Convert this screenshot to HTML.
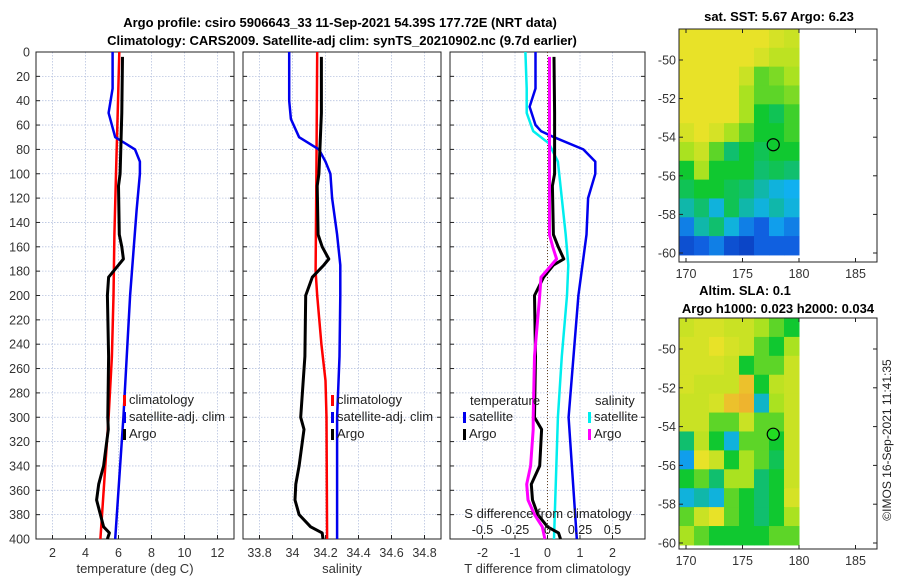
<!DOCTYPE html>
<html><head><meta charset="utf-8">
<style>
body{margin:0;background:#fff;}
svg{display:block;font-family:"Liberation Sans","DejaVu Sans",sans-serif;}
</style></head>
<body>
<svg id="s" width="900" height="580" viewBox="0 0 900 580" xmlns="http://www.w3.org/2000/svg">
<text x="340" y="27" font-size="13" font-weight="bold" text-anchor="middle">Argo profile: csiro 5906643_33 11-Sep-2021 54.39S 177.72E (NRT data)</text>
<text x="342" y="45" font-size="13" font-weight="bold" text-anchor="middle">Climatology: CARS2009. Satellite-adj clim: synTS_20210902.nc (9.7d earlier)</text>
<text x="779" y="21" font-size="13" font-weight="bold" text-anchor="middle">sat. SST: 5.67 Argo: 6.23</text>
<text x="745" y="295" font-size="13" font-weight="bold" text-anchor="middle">Altim. SLA: 0.1</text>
<text x="778" y="313" font-size="13" font-weight="bold" text-anchor="middle">Argo h1000: 0.023 h2000: 0.034</text>
<text transform="translate(891,440) rotate(-90)" font-size="12" text-anchor="middle" fill="#222">©IMOS 16-Sep-2021 11:41:35</text>
<g id="g"></g>
</svg>
<script>
// ---- data ----
const tempClimDepth=[0,50,100,150,200,250,300,350,400];
const tempClim=[6.05,5.95,5.85,5.75,5.7,5.6,5.4,5.15,4.9];
const tempSatDepth=[0,30,50,70,80,90,100,130,200,300,400];
const tempSat=[5.64,5.64,5.4,5.8,7.0,7.3,7.3,7.1,6.7,6.3,5.8];
const argoDepth=[4,50,100,110,150,160,170,175,185,200,250,300,310,340,355,368,380,390,395,400];
const tempArgo=[6.24,6.2,6.1,6.0,6.05,6.2,6.3,6.0,5.4,5.33,5.4,5.35,5.38,5.1,4.8,4.67,4.9,5.1,5.45,5.33];
const salClimDepth=[0,100,180,200,240,270,300,400];
const salClim=[34.15,34.145,34.14,34.15,34.175,34.2,34.206,34.21];
const salSatDepth=[0,40,55,70,80,90,100,120,150,175,200,250,300,400];
const salSat=[33.98,33.98,33.99,34.04,34.16,34.2,34.23,34.24,34.27,34.29,34.29,34.285,34.27,34.27];
const salArgo=[34.175,34.175,34.16,34.15,34.155,34.18,34.22,34.19,34.12,34.08,34.075,34.05,34.07,34.04,34.02,34.015,34.04,34.11,34.18,34.185];
const dSatTDepth=[0,30,45,60,65,70,80,90,100,120,150,200,300,400];
const dSatT=[-0.37,-0.37,-0.55,-0.37,-0.2,0.2,1.1,1.47,1.47,1.25,1.2,0.95,0.65,0.9];
const dSatSDepth=[0,30,50,65,75,90,150,175,200,250,300,400];
const dSatS=[-0.17,-0.16,-0.16,-0.11,0.01,0.08,0.14,0.16,0.15,0.11,0.08,0.05];
const dArgoT=[0.2,0.22,0.22,0.15,0.18,0.33,0.5,0.18,-0.12,-0.4,-0.37,-0.4,-0.18,-0.24,-0.5,-0.46,-0.3,0,0.34,0.4];
const dArgoS=[0.015,0.015,0.015,0.015,0.015,0.04,0.07,0.03,-0.05,-0.06,-0.1,-0.11,-0.11,-0.13,-0.16,-0.15,-0.1,-0.04,-0.03,-0.02];
const depthTicks=[0,20,40,60,80,100,120,140,160,180,200,220,240,260,280,300,320,340,360,380,400];
const tempTicks=[2,4,6,8,10,12];
const salTicks=[33.8,34,34.2,34.4,34.6,34.8];
const salTickLabels=["33.8","34","34.2","34.4","34.6","34.8"];
const dTTicks=[-2,-1,0,1,2];
const dSTicks=[-0.5,-0.25,0,0.25,0.5];
const lonTicks=[170,175,180,185];
const latTicks=[-50,-52,-54,-56,-58,-60];
const sstGrid=[
[.65,.65,.65,.65,.65,.65,.62,.6],
[.65,.65,.65,.65,.65,.62,.58,.58],
[.65,.65,.65,.65,.6,.5,.52,.55],
[.65,.65,.65,.65,.55,.5,.5,.52],
[.65,.65,.65,.65,.55,.45,.42,.48],
[.62,.65,.62,.55,.5,.45,.45,.48],
[.55,.6,.5,.4,.45,.42,.45,.45],
[.45,.55,.45,.45,.45,.4,.42,.4],
[.42,.45,.45,.42,.4,.35,.3,.28],
[.35,.4,.3,.42,.35,.3,.35,.3],
[.2,.35,.4,.3,.2,.15,.25,.2],
[.12,.15,.2,.12,.1,.15,.15,.15]];
const slaGrid=[
[.6,.62,.62,.6,.6,.55,.5,.45],
[.62,.62,.65,.62,.6,.5,.45,.55],
[.62,.62,.62,.6,.45,.5,.5,.6],
[.62,.6,.6,.6,.7,.45,.58,.6],
[.6,.6,.62,.7,.72,.32,.55,.6],
[.6,.6,.5,.5,.6,.5,.5,.6],
[.4,.58,.45,.3,.5,.5,.45,.6],
[.25,.65,.6,.45,.55,.5,.42,.6],
[.45,.5,.4,.55,.55,.4,.45,.6],
[.3,.35,.3,.5,.45,.4,.45,.62],
[.5,.6,.65,.5,.45,.4,.45,.55],
[.55,.5,.45,.45,.45,.45,.5,.5]];
const argoLon=177.72, argoLat=-54.39;

// ---- drawing ----
const NS='http://www.w3.org/2000/svg';
const G=document.getElementById('g');
function el(tag,attrs,parent){const e=document.createElementNS(NS,tag);for(const k in attrs)e.setAttribute(k,attrs[k]);(parent||G).appendChild(e);return e;}
const yTop=52,yBot=539;
const yD=d=>yTop+(yBot-yTop)*d/400;
function panel(x0,x1,xmin,xmax,ticks,labels,name,xlabel){
  const sx=v=>x0+(x1-x0)*(v-xmin)/(xmax-xmin);
  const g=el('g',{});
  
  
  depthTicks.forEach(d=>{if(d>0&&d<400){const l=el('line',{x1:x0,x2:x1,y1:yD(d),y2:yD(d),stroke:'#b8c4e0','stroke-width':0.8,'stroke-dasharray':'1.5,1.5'},g);}
    el('line',{x1:x0,x2:x0+4,y1:yD(d),y2:yD(d),stroke:'#222'},g);el('line',{x1:x1,x2:x1-4,y1:yD(d),y2:yD(d),stroke:'#222'},g);});
  ticks.forEach((t,i)=>{const x=sx(t);const l=el('line',{x1:x,x2:x,y1:yTop,y2:yBot,stroke:'#b8c4e0','stroke-width':0.8,'stroke-dasharray':'1.5,1.5'},g);
    el('line',{x1:x,x2:x,y1:yBot,y2:yBot-4,stroke:'#222'},g);
    const tx=el('text',{x:x,y:557,'font-size':12.5,'text-anchor':'middle',fill:'#333'},g);tx.textContent=labels[i];});
  el('rect',{x:x0,y:yTop,width:x1-x0,height:yBot-yTop,fill:'none',stroke:'#222','stroke-width':1},g);
  const xl=el('text',{x:(x0+x1)/2,y:573,'font-size':13,'text-anchor':'middle',fill:'#333'},g);xl.textContent=xlabel;
  return sx;
}
function line(sx,depths,vals,color,w,name){
  const p=depths.map((d,i)=>sx(vals[i]).toFixed(1)+','+yD(d).toFixed(1)).join(' ');
  const e=el('polyline',{points:p,fill:'none',stroke:color,'stroke-width':w,'stroke-linejoin':'round'});
  
  
}
function legendItem(x,y,color,label,name){
  el('rect',{x:x,y:y-9,width:3,height:11,fill:color});
  const t=el('text',{x:x+6,y:y,'font-size':13,fill:'#222'});t.textContent=label;
  
  
}
depthTicks.forEach(d=>{const t=el('text',{x:30,y:yD(d)+4.5,'font-size':12.5,'text-anchor':'end',fill:'#333'});t.textContent=d;
  
  });
const sx1=panel(36,234,1,13,tempTicks,tempTicks.map(String),'temperature-panel','temperature (deg C)');
line(sx1,tempClimDepth,tempClim,'#ff0000',2.5,'temp-climatology-line');
line(sx1,tempSatDepth,tempSat,'#0000ee',2.5,'temp-satellite-line');
line(sx1,argoDepth,tempArgo,'#000',3,'temp-argo-line');
legendItem(123,404,'#ff0000','climatology','legend-climatology');
legendItem(123,421,'#0000ee','satellite-adj. clim','legend-satellite');
legendItem(123,438,'#000','Argo','legend-argo');
const sx2=panel(243,441,33.7,34.9,salTicks,salTickLabels,'salinity-panel','salinity');
line(sx2,salClimDepth,salClim,'#ff0000',2.5,'sal-climatology-line');
line(sx2,salSatDepth,salSat,'#0000ee',2.5,'sal-satellite-line');
line(sx2,argoDepth,salArgo,'#000',3,'sal-argo-line');
legendItem(331,404,'#ff0000','climatology','legend-climatology-2');
legendItem(331,421,'#0000ee','satellite-adj. clim','legend-satellite-2');
legendItem(331,438,'#000','Argo','legend-argo-2');
const sx3=panel(450,645,-3,3,dTTicks,dTTicks.map(String),'difference-panel','T difference from climatology');
const sxS=v=>sx3(v*4);
el('line',{x1:sx3(0),x2:sx3(0),y1:yTop,y2:yBot,stroke:'#664422','stroke-width':1,'stroke-dasharray':'1,2'});
line(sx3,dSatTDepth,dSatT,'#0000ee',2.5,'dT-satellite-line');
line(sxS,dSatSDepth,dSatS,'#00eeee',2.5,'dS-satellite-line');
line(sx3,argoDepth,dArgoT,'#000',3,'dT-argo-line');
line(sxS,argoDepth,dArgoS,'#ff00ff',3,'dS-argo-line');
let t=el('text',{x:470,y:405,'font-size':13,fill:'#222'});t.textContent='temperature';
t=el('text',{x:595,y:405,'font-size':13,fill:'#222'});t.textContent='salinity';
legendItem(463,421,'#0000ee','satellite','legend-dT-satellite');
legendItem(463,438,'#000','Argo','legend-dT-argo');
legendItem(588,421,'#00eeee','satellite','legend-dS-satellite');
legendItem(588,438,'#ff00ff','Argo','legend-dS-argo');
t=el('text',{x:548,y:518,'font-size':13,'text-anchor':'middle',fill:'#222'});t.textContent='S difference from climatology';


dSTicks.forEach(v=>{const x=sxS(v);el('line',{x1:x,x2:x,y1:yBot,y2:yBot-4,stroke:'#222'});
  const tt=el('text',{x:x,y:534,'font-size':12.5,'text-anchor':'middle',fill:'#222'});tt.textContent=String(v);
  
  });
// colormap (custom, matched to reference)
const cmapStops=[[0,[0,16,150]],[0.15,[16,96,224]],[0.28,[16,176,240]],[0.36,[16,184,160]],[0.45,[16,200,48]],[0.55,[170,226,32]],[0.65,[232,226,40]],[0.75,[240,160,48]],[1,[220,40,20]]];
function cmap(v){
  for(let i=1;i<cmapStops.length;i++){const a=cmapStops[i-1],b=cmapStops[i];
    if(v<=b[0]){const f=(v-a[0])/(b[0]-a[0]);const c=a[1].map((x,k)=>Math.round(x+(b[1][k]-x)*Math.max(0,f)));return 'rgb('+c.join(',')+')';}}
  return 'rgb(220,40,20)';
}
function map(grid,bx0,by0,bx1,by1,lat50y,lat60y,circleFill,name){
  const g=el('g',{});
  
  
  const lx=v=>686+(v-170)*(799-686)/10;
  const ly=v=>lat50y+(v+50)*(lat60y-lat50y)/-10;
  const x0=bx0,x1=lx(180),y0=by0,y1=ly(-60.1);
  const rows=grid.length,cols=grid[0].length;
  const cw=(x1-x0)/cols,ch=(y1-y0)/rows;
  grid.forEach((row,r)=>row.forEach((v,c)=>{const cell=el('rect',{x:x0+c*cw,y:y0+r*ch,width:cw+0.5,height:ch+0.5,fill:cmap(v)},g);
    
    }));
  el('rect',{x:bx0,y:by0,width:bx1-bx0,height:by1-by0,fill:'none',stroke:'#222'},g);
  lonTicks.forEach(v=>{const x=lx(v);el('line',{x1:x,x2:x,y1:by1,y2:by1-4,stroke:'#222'},g);el('line',{x1:x,x2:x,y1:by0,y2:by0+4,stroke:'#222'},g);
    const tt=el('text',{x:x,y:by1+16,'font-size':12.5,'text-anchor':'middle',fill:'#333'},g);tt.textContent=v;
    
    });
  latTicks.forEach(v=>{const y=ly(v);el('line',{x1:bx0,x2:bx0+4,y1:y,y2:y,stroke:'#222'},g);el('line',{x1:bx1,x2:bx1-4,y1:y,y2:y,stroke:'#222'},g);
    const tt=el('text',{x:bx0-3,y:y+4.5,'font-size':12.5,'text-anchor':'end',fill:'#333'},g);tt.textContent=v;
    
    });
  const ci=el('circle',{cx:lx(argoLon),cy:ly(argoLat),r:6,fill:circleFill,stroke:'#000','stroke-width':1.2},g);
  
  
}
map(sstGrid,679,29,877,262,60,253,'none','sst-map');
map(slaGrid,679,318,877,549,349,543,'#22dd22','sla-map');
</script>
</body></html>
